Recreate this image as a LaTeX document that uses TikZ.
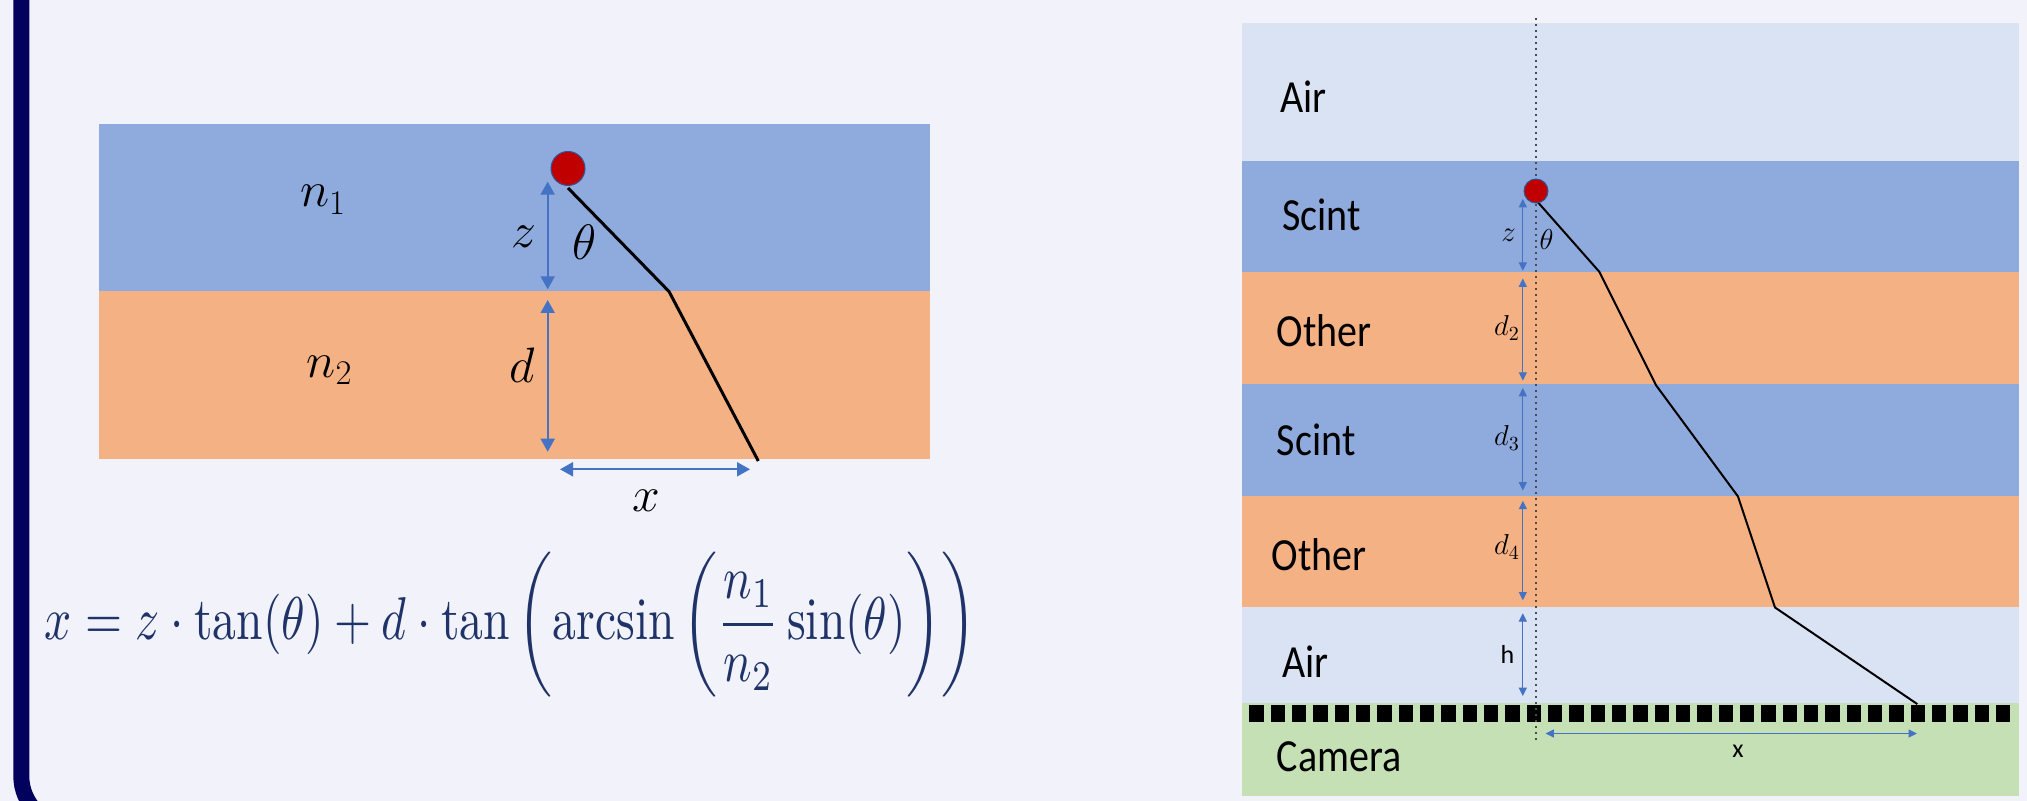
\documentclass[tikz,border=0pt]{standalone}
\usepackage{amsmath}
\usepackage{graphicx}
\usepackage{fontspec}
\newfontfamily\calibri{Carlito}
\usetikzlibrary{arrows.meta}
\definecolor{bg}{HTML}{F1F2FA}
\definecolor{airc}{HTML}{DAE3F3}
\definecolor{scintc}{HTML}{8FAADC}
\definecolor{otherc}{HTML}{F4B183}
\definecolor{camc}{HTML}{C5E0B4}
\definecolor{arrc}{HTML}{4472C4}
\definecolor{navyc}{HTML}{02025E}
\definecolor{eqc}{HTML}{1F3368}
\definecolor{dotc}{HTML}{C00000}
\definecolor{dotline}{HTML}{2F5597}
\newcommand\lyrtext[1]{\scalebox{0.87}[1]{#1}}
\begin{document}
\begin{tikzpicture}[x=0.5pt,y=-0.5pt,
  lab/.style={font=\fontsize{24}{28}\selectfont, inner sep=0},
  slab/.style={font=\calibri\fontsize{23}{27}\selectfont, inner sep=0, anchor=west},
  smath/.style={font=\fontsize{14}{16}\selectfont, inner sep=0},
  ssans/.style={font=\calibri\fontsize{13}{15}\selectfont, inner sep=0},
  bigarr/.style={arrc, line width=1pt, {Triangle[length=6.5pt,width=7pt]}-{Triangle[length=6.5pt,width=7pt]}},
  smallarr/.style={arrc, line width=0.6pt, {Triangle[length=4.2pt,width=4pt]}-{Triangle[length=4.2pt,width=4pt]}},
  ray/.style={black, line width=1.5pt, line join=round},
  sray/.style={black, line width=1pt, line join=round},
  particle/.style={circle, fill=dotc, draw=dotline, line width=0.5pt, inner sep=0}
]
\useasboundingbox (0,0) rectangle (2027,801);
\fill[bg] (0,0) rectangle (2027,801);
\begin{scope}
  \clip (0,0) rectangle (2027,801);
  \draw[navyc, line width=8pt, rounded corners=25pt] (21.3,-100) -- (21.3,826) -- (2200,826);
\end{scope}

% ---------------- left diagram ----------------
\fill[scintc] (99,124) rectangle (930,291.2);
\fill[otherc] (99,291.2) rectangle (930,459);
\node[lab] (n1) at (323,200) {$n_1$};
\node[lab] (n2) at (329.5,370.5) {$n_2$};

\coordinate (zt) at (547.7,181.7);
\coordinate (zb) at (547.7,289.3);
\coordinate (dt) at (547.7,300);
\coordinate (db) at (547.7,451.7);
\coordinate (xl) at (560,469.3);
\coordinate (xr) at (750,469.3);
\draw[bigarr] (zt) -- (zb);
\draw[bigarr] (dt) -- (db);
\draw[bigarr] (xl) -- (xr);
\node[lab] (zl) at (524,237) {$z$};
\node[lab] (th) at (585,242) {$\theta$};
\node[lab] (dl) at (522.5,365) {$d$};
\node[lab] (xlab) at (646,500.8) {$x$};

\coordinate (r0) at (568,188);
\coordinate (r1) at (669,291.5);
\coordinate (r2) at (758.3,461);
\draw[ray] (r0) -- (r1) -- (r2);
\node[particle, minimum size=17pt] (p1) at (568,168.5) {};

\node[anchor=west, inner sep=0, text=eqc] (eq) at (44.6,624.5)
  {\resizebox*{465.6pt}{72.5pt}{$\displaystyle x = z\cdot\tan(\theta)+d\cdot\tan\left(\arcsin\left(\frac{n_1}{n_2}\sin(\theta)\right)\right)$}};

% ---------------- right diagram ----------------
\fill[airc] (1242,23) rectangle (2019,161);
\fill[scintc] (1242,161) rectangle (2019,271.8);
\fill[otherc] (1242,271.8) rectangle (2019,384.3);
\fill[scintc] (1242,384.3) rectangle (2019,495.7);
\fill[otherc] (1242,495.7) rectangle (2019,607);
\fill[airc] (1242,607) rectangle (2019,702.6);
\fill[camc] (1242,702.6) rectangle (2019,795.5);
\foreach \i in {0,...,35}
  \fill[black] (1249.3+21.33*\i,705) rectangle ++(14.5,17);

\node[slab] (air1) at (1280.2,96.6) {\lyrtext{Air}};
\node[slab] (sc1) at (1281.7,215) {\lyrtext{Scint}};
\node[slab] (ot1) at (1276.5,331) {\lyrtext{Other}};
\node[slab] (sc2) at (1276.5,439.5) {\lyrtext{Scint}};
\node[slab] (ot2) at (1271.2,554.5) {\lyrtext{Other}};
\node[slab] (air2) at (1281.7,661.7) {\lyrtext{Air}};
\node[slab] (cam) at (1276.5,756.3) {\lyrtext{Camera}};

\coordinate (vt) at (1536,18);
\coordinate (vb) at (1536,741);
\draw[black!70, line width=0.75pt, dash pattern=on 1pt off 2pt] (vt) -- (vb);

\coordinate (a1) at (1522.8,199);
\coordinate (a2) at (1522.8,270.8);
\coordinate (a3) at (1522.8,278.5);
\coordinate (a4) at (1522.8,380.7);
\coordinate (a5) at (1522.8,388);
\coordinate (a6) at (1522.8,490.5);
\coordinate (a7) at (1522.8,500.8);
\coordinate (a8) at (1522.8,600.4);
\coordinate (a9) at (1522.8,613.2);
\coordinate (a10) at (1522.8,696);
\draw[smallarr] (a1) -- (a2);
\draw[smallarr] (a3) -- (a4);
\draw[smallarr] (a5) -- (a6);
\draw[smallarr] (a7) -- (a8);
\draw[smallarr] (a9) -- (a10);
\coordinate (bxl) at (1545.5,733.5);
\coordinate (bxr) at (1917,733.5);
\draw[smallarr] (bxl) -- (bxr);

\node[smath] (zr) at (1508.5,235) {$z$};
\node[smath] (thr) at (1546.5,240) {$\theta$};
\node[smath] (d2) at (1507,328) {$d_2$};
\node[smath] (d3) at (1507,438) {$d_3$};
\node[smath] (d4) at (1507,547) {$d_4$};
\node[ssans] (hl) at (1507.5,654) {h};
\node[ssans] (xr2) at (1738,751.7) {x};

\coordinate (s0) at (1537.5,201.8);
\coordinate (s1) at (1599.3,271.8);
\coordinate (s2) at (1656.2,385.5);
\coordinate (s3) at (1738,496.5);
\coordinate (s4) at (1775,607.5);
\coordinate (s5) at (1917.3,704.1);
\draw[sray] (s0) -- (s1) -- (s2) -- (s3) -- (s4) -- (s5);
\node[particle, minimum size=12pt] (p2) at (1536,191) {};
\end{tikzpicture}
\end{document}
